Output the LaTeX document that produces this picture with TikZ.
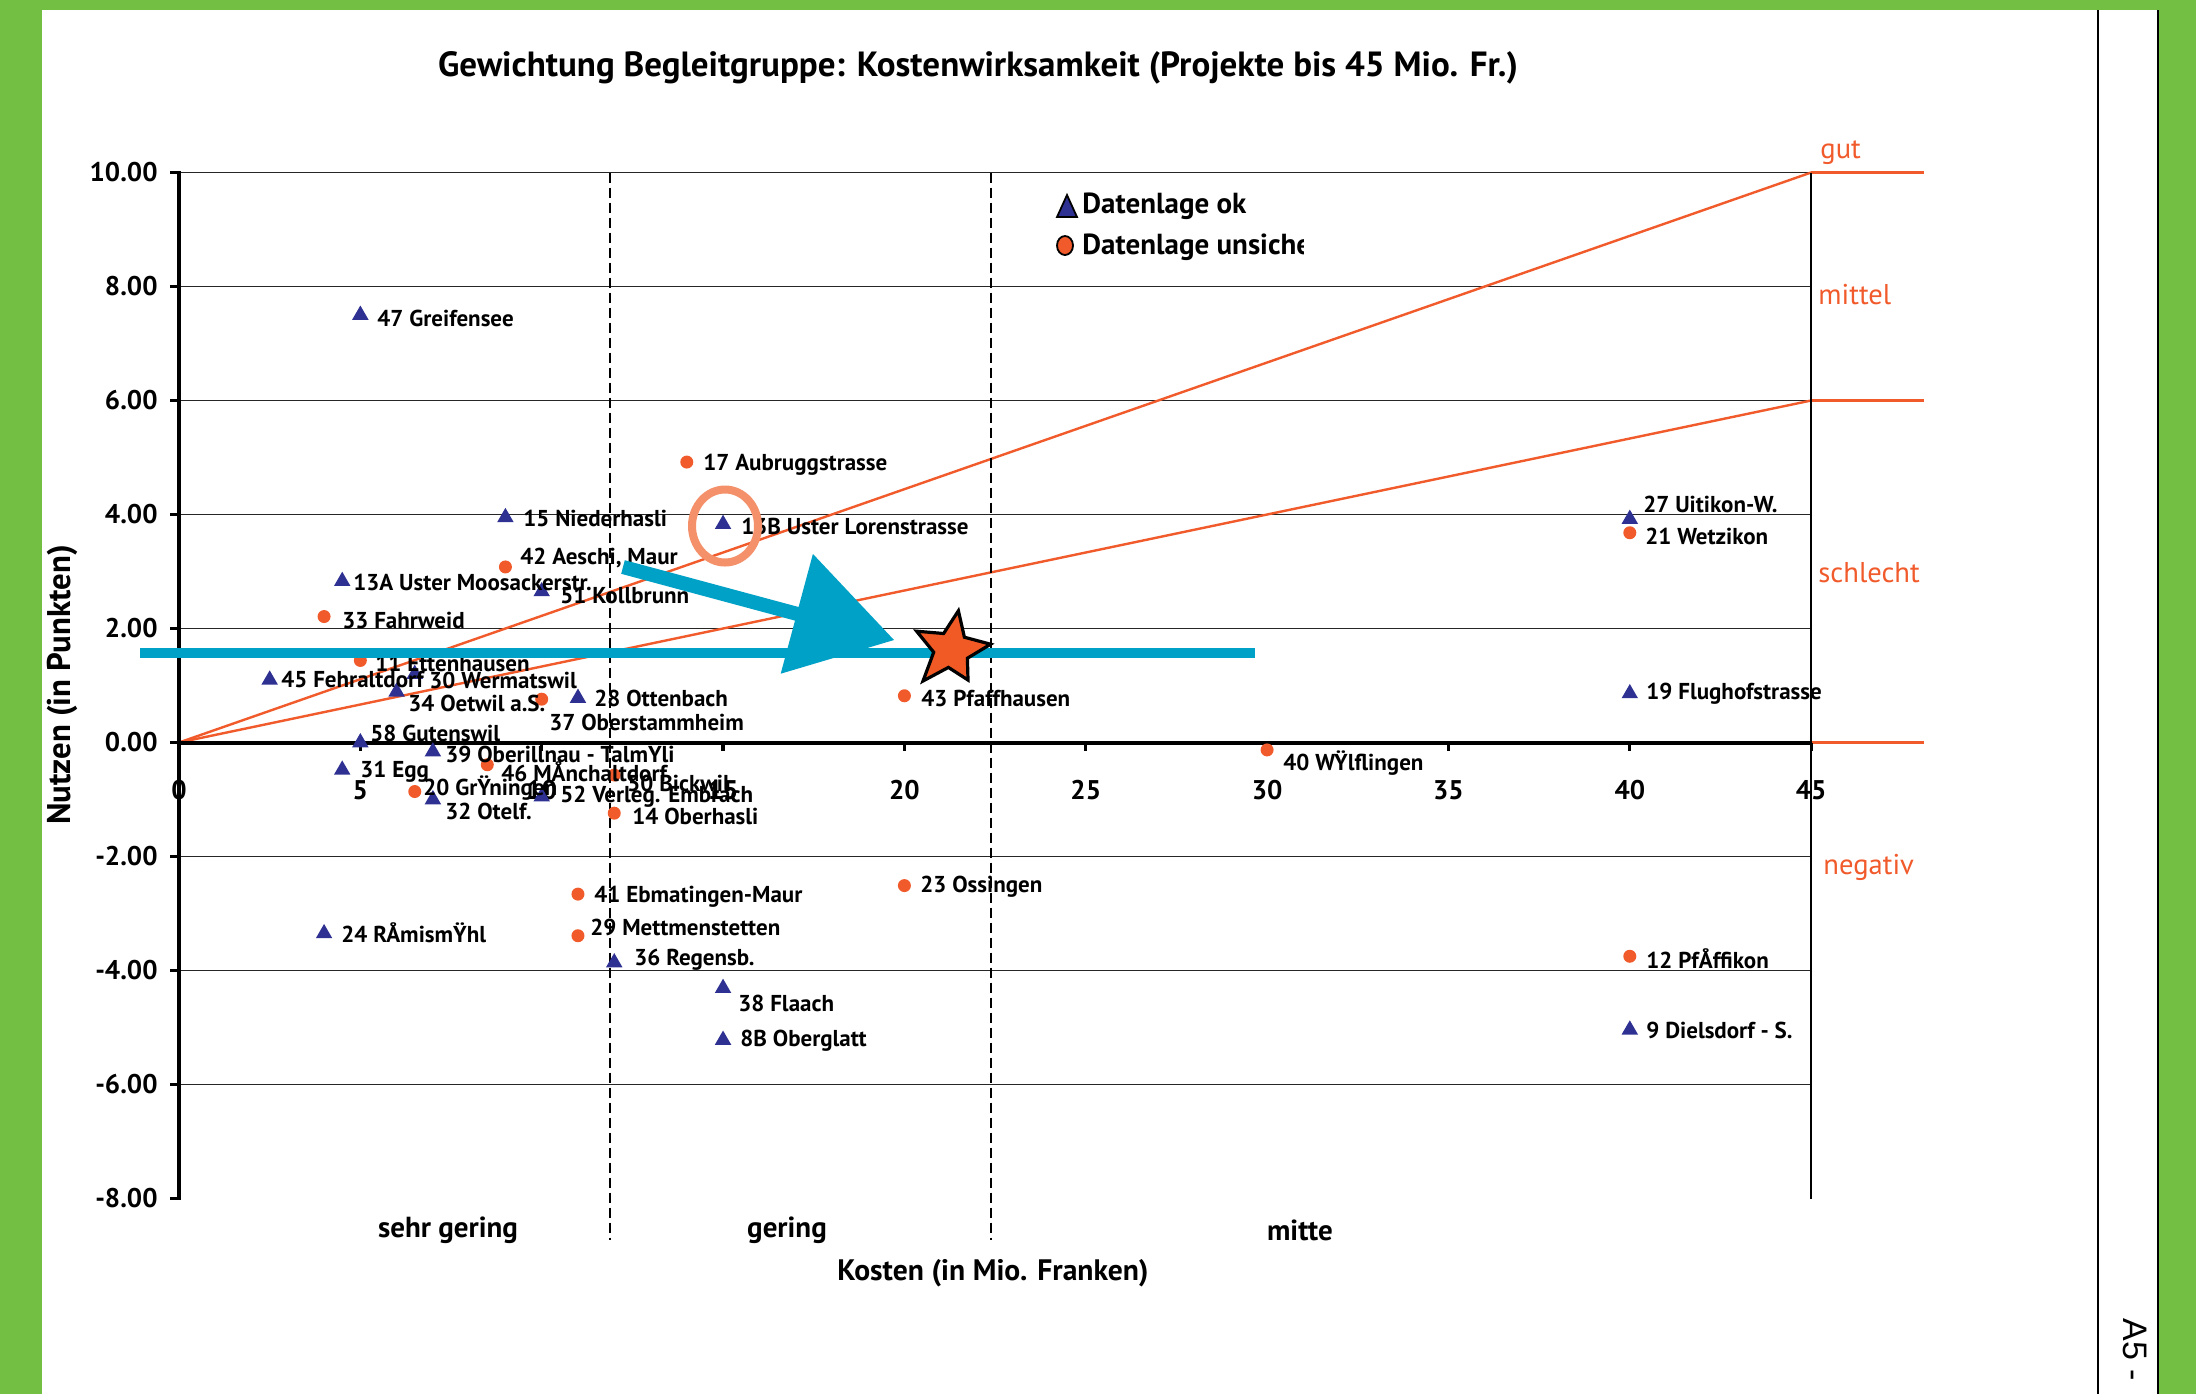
\documentclass[tikz,border=0pt]{standalone}
\usepackage{fontspec}
\setmainfont{PT Sans}
\newfontfamily\plainfont{Liberation Sans}
\usetikzlibrary{shapes.geometric}
\definecolor{grn}{HTML}{72BF44}
\definecolor{triblue}{HTML}{2E3192}
\definecolor{dotred}{HTML}{F15A2B}
\definecolor{zonered}{HTML}{F15A2B}
\definecolor{cyanb}{HTML}{00A1C6}
\definecolor{salmon}{HTML}{F4916B}
\definecolor{starorange}{HTML}{F15A24}
\begin{document}
\begin{tikzpicture}[x=0.5pt,y=-0.5pt,
  lbl/.style={font=\bfseries\fontsize{11.5}{13}\selectfont, anchor=west, inner sep=0pt},
  ticklbl/.style={font=\bfseries\fontsize{13.5}{15}\selectfont, inner sep=0pt},
  cat/.style={font=\bfseries\fontsize{14.5}{16}\selectfont, inner sep=0pt},
  zonelbl/.style={font=\fontsize{14.3}{16}\selectfont, text=zonered, anchor=west, inner sep=0pt},
  gridline/.style={line width=0.75pt, black!85},
  zoneline/.style={line width=1.2pt, zonered},
  vdash/.style={line width=0.8pt, dash pattern=on 5pt off 2.5pt},
  axisline/.style={line width=2pt},
  tickmark/.style={line width=1.6pt},
  tri/.style={regular polygon, regular polygon sides=3, fill=triblue, inner sep=0pt, minimum size=9.5pt},
  dot/.style={circle, fill=dotred, inner sep=0pt, minimum size=6.5pt},
  legtxt/.style={font=\bfseries\fontsize{14.5}{17}\selectfont, anchor=west, inner sep=0pt},
]
\useasboundingbox (0,0) rectangle (2196,1394);
% frame
\fill[grn] (0,0) rectangle (2196,1394);
\fill[white] (42,10) rectangle (2158,1394);
\draw[line width=1pt] (2158,10) -- (2158,1394);
\draw[line width=1pt] (2098,10) -- (2098,1394);
\node[font=\plainfont\fontsize{17}{19}\selectfont, rotate=-90, anchor=west, inner sep=0pt] (pg) at (2135,1318) {A5 -};

% title
\node[font=\bfseries\fontsize{17.5}{20}\selectfont, inner sep=0pt] (title) at (978,68) {Gewichtung Begleitgruppe: Kostenwirksamkeit (Projekte bis 45 Mio. Fr.)};

\begin{scope}[shift={(179,742.5)}, x=18.135pt, y=28.5pt]
  % grid
  \foreach \g in {10,8,6,4,2,-2,-4,-6} \draw[gridline] (0,\g) -- (45,\g);
  % zone lines
  \draw[zoneline] (0,0) -- (45,10);
  \draw[zoneline] (0,0) -- (45,6);
  \foreach \g in {10,6,0} \draw[zoneline, line width=1.5pt] (45,\g) -- (48.1,\g);
  % dashed category separators
  \draw[vdash] (11.88,10) -- (11.88,-8.73);
  \draw[vdash] (22.39,10) -- (22.39,-8.73);
  % right border
  \draw[line width=0.9pt] (45,10) -- (45,-8);
  % axes
  \draw[axisline] (0,0) -- (45,0);
  \draw[axisline] (0,10.03) -- (0,-8.03);
  \foreach \t in {5,10,...,45} \draw[tickmark] (\t,0) -- (\t,-0.15);
  \foreach \g in {10,8,...,-8} \draw[tickmark] (0,\g) -- (-0.26,\g);
  % tick labels
  \foreach \t in {0,5,...,45} \node[ticklbl] (xt\t) at (\t,-0.84) {\t};
  \foreach \g/\s in {10/10.00,8/8.00,6/6.00,4/4.00,2/2.00,0/0.00,-2/-2.00,-4/-4.00,-6/-6.00,-8/-8.00}
    \node[ticklbl, anchor=east] (yt\s) at (-0.58,\g) {\s};
  % circles (Datenlage unsicher)
  \node[dot] (m17) at (14,4.92) {};
  \node[dot] (m42) at (9,3.08) {};
  \node[dot] (m33) at (4,2.21) {};
  \node[dot] (m11) at (5,1.44) {};
  \node[dot] (m37) at (10,0.76) {};
  \node[dot] (m46) at (8.5,-0.39) {};
  \node[dot] (m50) at (12,-0.57) {};
  \node[dot] (m20) at (6.5,-0.86) {};
  \node[dot] (m14) at (12,-1.24) {};
  \node[dot] (m43) at (20,0.82) {};
  \node[dot] (m40) at (30,-0.13) {};
  \node[dot] (m21) at (40,3.68) {};
  \node[dot] (m41) at (11,-2.66) {};
  \node[dot] (m29) at (11,-3.39) {};
  \node[dot] (m23) at (20,-2.51) {};
  \node[dot] (m12) at (40,-3.75) {};
  % triangles (Datenlage ok)
  \node[tri] (m47) at (5,7.5) {};
  \node[tri] (m15) at (9,3.95) {};
  \node[tri] (m13a) at (4.5,2.83) {};
  \node[tri] (m51) at (10,2.65) {};
  \node[tri] (m13b) at (15,3.83) {};
  \node[tri] (m45) at (2.5,1.1) {};
  \node[tri] (m30) at (6.5,1.2) {};
  \node[tri] (m34) at (6,0.89) {};
  \node[tri] (m28) at (11,0.78) {};
  \node[tri] (m58) at (5,0) {};
  \node[tri] (m39) at (7,-0.16) {};
  \node[tri] (m31) at (4.5,-0.48) {};
  \node[tri] (m32) at (7,-1.0) {};
  \node[tri] (m52) at (10,-0.95) {};
  \node[tri] (m24) at (4,-3.35) {};
  \node[tri] (m36) at (12,-3.86) {};
  \node[tri] (m38) at (15,-4.31) {};
  \node[tri] (m8b) at (15,-5.22) {};
  \node[tri] (m27) at (40,3.92) {};
  \node[tri] (m19) at (40,0.86) {};
  \node[tri] (m9) at (40,-5.04) {};
\end{scope}

% data labels
\node[lbl] (l47) at (377,318) {47 Greifensee};
\node[lbl] (l15) at (523,518) {15 Niederhasli};
\node[lbl] (l13a) at (353,582) {13A Uster Moosackerstr.};
\node[lbl] (l51) at (560,595) {51 Kollbrunn};
\node[lbl] (l13b) at (741,526) {13B Uster Lorenstrasse};
\node[lbl] (l45) at (281,680) {45 Fehraltdorf};
\node[lbl] (l30) at (429,680) {30 Wermatswil};
\node[lbl] (l34) at (408,703) {34 Oetwil a.S.};
\node[lbl] (l28) at (594,698) {28 Ottenbach};
\node[lbl] (l58) at (370,733) {58 Gutenswil};
\node[lbl] (l39) at (445,753) {39 Oberillnau - TalmŸli};
\node[lbl] (l31) at (360,772) {31 Egg};
\node[lbl] (l32) at (445,811) {32 Otelf.};
\node[lbl] (l52) at (560,797) {52 Verleg. Embrach};
\node[lbl] (l24) at (341,933) {24 RÅmismŸhl};
\node[lbl] (l36) at (634,960) {36 Regensb.};
\node[lbl] (l38) at (738,1003) {38 Flaach};
\node[lbl] (l8b) at (740,1041) {8B Oberglatt};
\node[lbl] (l27) at (1643,504) {27 Uitikon-W.};
\node[lbl] (l19) at (1646,694) {19 Flughofstrasse};
\node[lbl] (l9) at (1646,1030) {9 Dielsdorf - S.};
\node[lbl] (l17) at (703,465) {17 Aubruggstrasse};
\node[lbl] (l42) at (520,558) {42 Aeschi, Maur};
\node[lbl] (l33) at (342,620) {33 Fahrweid};
\node[lbl] (l11) at (375,663) {11 Ettenhausen};
\node[lbl] (l37) at (549,722) {37 Oberstammheim};
\node[lbl] (l46) at (501,772) {46 MÅnchaltdorf};
\node[lbl] (l50) at (627,783) {50 Bickwil};
\node[lbl] (l20) at (423,788) {20 GrŸningen};
\node[lbl] (l14) at (632,816) {14 Oberhasli};
\node[lbl] (l43) at (921,698) {43 Pfaffhausen};
\node[lbl] (l40) at (1283,763) {40 WŸlflingen};
\node[lbl] (l21) at (1645,536) {21 Wetzikon};
\node[lbl] (l41) at (594,897) {41 Ebmatingen-Maur};
\node[lbl] (l29) at (590,927) {29 Mettmenstetten};
\node[lbl] (l23) at (920,887) {23 Ossingen};
\node[lbl] (l12) at (1646,959) {12 PfÅffikon};

% zone labels
\node[zonelbl] (zgut) at (1820,153) {gut};
\node[zonelbl] (zmit) at (1818,295) {mittel};
\node[zonelbl] (zsch) at (1818,573) {schlecht};
\node[zonelbl] (zneg) at (1823,867) {negativ};

% category and axis labels
\node[cat] (c1) at (448,1230) {sehr gering};
\node[cat] (c2) at (787,1230) {gering};
\node[cat] (c3) at (1300,1230) {mitte};
\node[font=\bfseries\fontsize{14.8}{16}\selectfont, inner sep=0pt] (xlab) at (993,1273) {Kosten (in Mio. Franken)};
\node[font=\bfseries\fontsize{16.4}{18}\selectfont, inner sep=0pt, rotate=90] (ylab) at (62,685) {Nutzen (in Punkten)};

% legend
\draw[fill=triblue, line width=0.9pt] (1057,217) -- (1067,195) -- (1077,217) -- cycle;
\draw[fill=dotred, line width=0.9pt] (1065,245.5) ellipse [x radius=4pt, y radius=4.75pt];
\node[legtxt] (leg1) at (1082,206) {Datenlage ok};
\begin{scope}
  \clip (1075,225) rectangle (1303,270);
  \node[legtxt] (leg2) at (1082,247) {Datenlage unsiche};
\end{scope}

% highlights
\draw[cyanb, line width=4.75pt] (140,653) -- (1255,653);
\fill[cyanb] (624.8,560.2) -- (798.6,607.0) -- (812.9,553.9) -- (894,640) -- (780.7,673.7) -- (795.0,620.6) -- (621.2,573.8) -- cycle;
\draw[salmon, line width=4pt] (725,526) ellipse [x radius=16.5pt, y radius=18.25pt];
\draw[fill=starorange, line width=1.6pt, line join=miter] (958.4,610.8) -- (964.4,637.2) -- (990.6,644.2) -- (967.4,658.2) -- (968,680) -- (948.4,667.4) -- (923,681) -- (933.7,652.2) -- (916.6,631.2) -- (943.6,633.5) -- cycle;
\end{tikzpicture}
\end{document}
